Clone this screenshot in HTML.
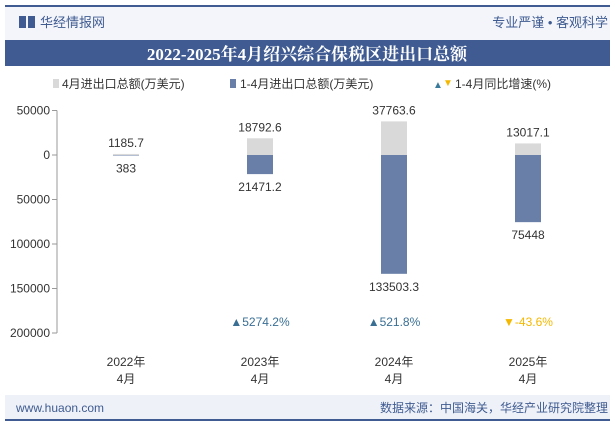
<!DOCTYPE html>
<html><head><meta charset="utf-8"><style>
body{margin:0;width:615px;height:427px;background:#fff;font-family:"Liberation Sans","Noto Sans CJK SC",sans-serif;overflow:hidden}
</style></head><body>
<svg width="615" height="427" xmlns="http://www.w3.org/2000/svg" id="svg">
<rect x="5" y="6" width="605" height="34" fill="#f3f5fa"/>
<rect x="5" y="5" width="605" height="2" fill="#3f5b91"/>
<rect x="19" y="16" width="7" height="12" fill="#3f5b91"/>
<rect x="28" y="16" width="7" height="12" fill="#3f5b91"/>
<text x="40" y="27" font-size="13" fill="#3f5b91" font-family="Liberation Sans,Noto Sans CJK SC,sans-serif">华经情报网</text>
<text x="608" y="27" font-size="13" fill="#3f5b91" text-anchor="end" font-family="Liberation Sans,Noto Sans CJK SC,sans-serif">专业严谨 • 客观科学</text>
<rect x="5" y="40" width="605" height="26" fill="#3f5b91"/>
<text x="307" y="60" font-size="17" font-weight="bold" fill="#fff" text-anchor="middle" font-family="Liberation Serif,Noto Serif CJK SC,serif">2022-2025年4月绍兴综合保税区进出口总额</text>
<g font-size="12" fill="#333" font-family="Liberation Sans,Noto Sans CJK SC,sans-serif">
<rect x="53" y="79" width="6" height="9" fill="#d9d9d9"/><text x="62" y="88">4月进出口总额(万美元)</text>
<rect x="230" y="79" width="6" height="9" fill="#6a7fa8"/><text x="240" y="88">1-4月进出口总额(万美元)</text>
<text x="433" y="88" font-size="10" fill="#3a7a9a">▲</text><text x="443" y="86" font-size="10" fill="#f5b800">▼</text><text x="455" y="88">1-4月同比增速(%)</text>
</g>
<g id="plot"></g>
<rect x="5" y="395" width="605" height="25" fill="#eef1f7"/>
<rect x="5" y="419" width="605" height="2" fill="#3f5b91"/>
<text x="16" y="412" font-size="12" fill="#3f5b91">www.huaon.com</text>
<text x="608" y="412" font-size="12" fill="#3f5b91" text-anchor="end" font-family="Liberation Sans,Noto Sans CJK SC,sans-serif">数据来源：中国海关，华经产业研究院整理</text>
</svg>
<script>
const categories=["2022年|4月","2023年|4月","2024年|4月","2025年|4月"];
const monthVals=[1185.7,18792.6,37763.6,13017.1];
const ytdVals=[383,21471.2,133503.3,75448];
const growth=[null,5274.2,521.8,-43.6];
const yTicks=[50000,0,-50000,-100000,-150000,-200000];
const NS="http://www.w3.org/2000/svg";
const g=document.getElementById('plot');
const y0=155,k=44.5/50000;
const y=v=>y0-v*k;
const x=i=>126+134*i;
function mk(t,a,p){const e=document.createElementNS(NS,t);for(const n in a)e.setAttribute(n,a[n]);(p||g).appendChild(e);return e;}
const ax=mk('line',{x1:57,x2:57,y1:y(50000),y2:y(-200000),stroke:'#999'});


yTicks.forEach(v=>{const t=mk('text',{x:50,y:y(v)+4,'font-size':12,fill:'#333','text-anchor':'end'});t.textContent=Math.abs(v);


mk('line',{x1:52,x2:57,y1:y(v),y2:y(v),stroke:'#999'});});
categories.forEach((c,i)=>{
const cx=x(i),w=26;
const b1=mk('rect',{x:cx-w/2,y:y(monthVals[i]),width:w,height:Math.max(monthVals[i]*k,0.5),fill:'#d9d9d9'});


const b2=mk('rect',{x:cx-w/2,y:y0,width:w,height:Math.max(ytdVals[i]*k,0.5),fill:'#6a7fa8'});


const l1=mk('text',{x:cx,y:y(monthVals[i])-7,'font-size':12,fill:'#333','text-anchor':'middle'});l1.textContent=monthVals[i];


const l2=mk('text',{x:cx,y:y(-ytdVals[i])+17,'font-size':12,fill:'#333','text-anchor':'middle'});l2.textContent=ytdVals[i];


const parts=c.split('|');
const cl=mk('text',{x:cx,y:366,'font-size':12,fill:'#333','text-anchor':'middle'});cl.textContent=parts[0];


const cl2=mk('text',{x:cx,y:383,'font-size':12,fill:'#333','text-anchor':'middle'});cl2.textContent=parts[1];


if(growth[i]!==null){const up=growth[i]>=0;
const gl=mk('text',{x:cx,y:326,'font-size':12,fill:up?'#3a6f94':'#f5b800','text-anchor':'middle'});gl.textContent=(up?'▲':'▼')+growth[i]+'%';

}
});
</script>
</body></html>
